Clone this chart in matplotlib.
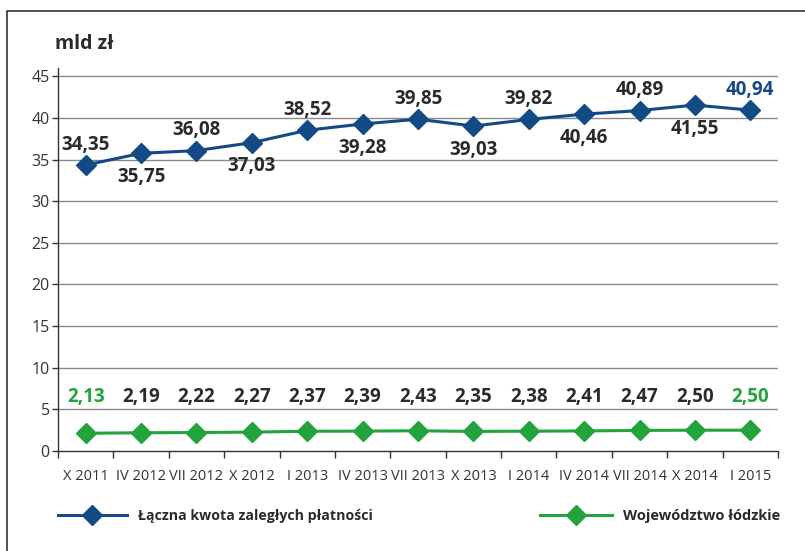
import matplotlib
matplotlib.use("Agg")
import matplotlib.pyplot as plt
from matplotlib.lines import Line2D
import numpy as np

categories = ["X 2011", "IV 2012", "VII 2012", "X 2012", "I 2013", "IV 2013", "VII 2013",
              "X 2013", "I 2014", "IV 2014", "VII 2014", "X 2014", "I 2015"]
total_values = [34.35, 35.75, 36.08, 37.03, 38.52, 39.28, 39.85, 39.03, 39.82, 40.46, 40.89, 41.55, 40.94]
lodz_values = [2.13, 2.19, 2.22, 2.27, 2.37, 2.39, 2.43, 2.35, 2.38, 2.41, 2.47, 2.50, 2.50]
yticks = [0, 5, 10, 15, 20, 25, 30, 35, 40, 45]
series_names = ["Łączna kwota zaległych płatności", "Województwo łódzkie"]

BLUE = "#134a85"
GREEN = "#22a33c"
DARK = "#2a2a2a"
GRAY = "#333333"

plt.rcParams['font.family'] = ['Open Sans', 'DejaVu Sans']

fig = plt.figure(figsize=(8.05, 5.51), dpi=100)
W, H = 805, 551
ax = fig.add_axes([58 / W, 1 - 451 / H, (778 - 58) / W, (451 - 68) / H])

x = np.arange(len(categories))

for y in yticks[1:]:
    ax.axhline(y, color="#8a8a8a", lw=1.0, zorder=1)

ax.plot(x, total_values, color=BLUE, lw=2.2, marker="D", markersize=10, zorder=3)
ax.plot(x, lodz_values, color=GREEN, lw=2.2, marker="D", markersize=10, zorder=3)

fmt = lambda v: f"{v:.2f}".replace(".", ",")

for i, v in enumerate(total_values):
    above = (i % 2 == 0)
    col = BLUE if i == len(total_values) - 1 else DARK
    ax.annotate(fmt(v), (i, v), xytext=(0, 14.5 if above else -17), textcoords="offset points",
                ha="center", va="center", fontsize=13.5,
                fontweight="bold", color=col, zorder=4)

for i, v in enumerate(lodz_values):
    col = GREEN if i in (0, len(lodz_values) - 1) else DARK
    ax.text(i, 6.5, fmt(v), ha="center", va="center", fontsize=13.5,
            fontweight="bold", color=col, zorder=4)

ax.set_xlim(-0.5, len(categories) - 0.5)
ax.set_ylim(0, 46)
ax.set_yticks(yticks)
ax.set_yticklabels([str(t) for t in yticks], fontsize=11.5, color=GRAY)
ax.set_xticks(x)
ax.set_xticklabels(categories, fontsize=10.5, color=GRAY)
ax.tick_params(axis="x", which="major", length=0, pad=13)
ax.set_xticks(np.arange(-0.5, len(categories), 1.0), minor=True)
ax.tick_params(axis="x", which="minor", length=5, width=1, color="#333333", direction="out")
ax.tick_params(axis="y", length=4, width=1, color="#333333", pad=2)

for s in ["top", "right"]:
    ax.spines[s].set_visible(False)
for s in ["left", "bottom"]:
    ax.spines[s].set_color("#333333")
    ax.spines[s].set_linewidth(1.0)

fig.text(55 / W, 1 - 44 / H, "mld zł", fontsize=14, fontweight="bold", color=DARK,
         ha="left", va="center")

# figure border
fig.add_artist(Line2D([7 / W, 7 / W, 1.0], [0.0, 1 - 11 / H, 1 - 11 / H],
                      transform=fig.transFigure, color="#333333", lw=1.2))

h1 = Line2D([], [], color=BLUE, lw=2.2, marker="D", markersize=10)
h2 = Line2D([], [], color=GREEN, lw=2.2, marker="D", markersize=10)
leg1 = fig.legend([h1], [series_names[0]], loc="center left",
                  bbox_to_anchor=(45 / W, 1 - 516 / H), frameon=False,
                  handlelength=4.9, handletextpad=0.75, prop={"weight": "bold", "size": 10.2})
leg2 = fig.legend([h2], [series_names[1]], loc="center left",
                  bbox_to_anchor=(527 / W, 1 - 516 / H), frameon=False,
                  handlelength=4.9, handletextpad=0.75, prop={"weight": "bold", "size": 10.5})
for leg in (leg1, leg2):
    for t in leg.get_texts():
        t.set_color(DARK)

fig.savefig("out.png", dpi=100)
